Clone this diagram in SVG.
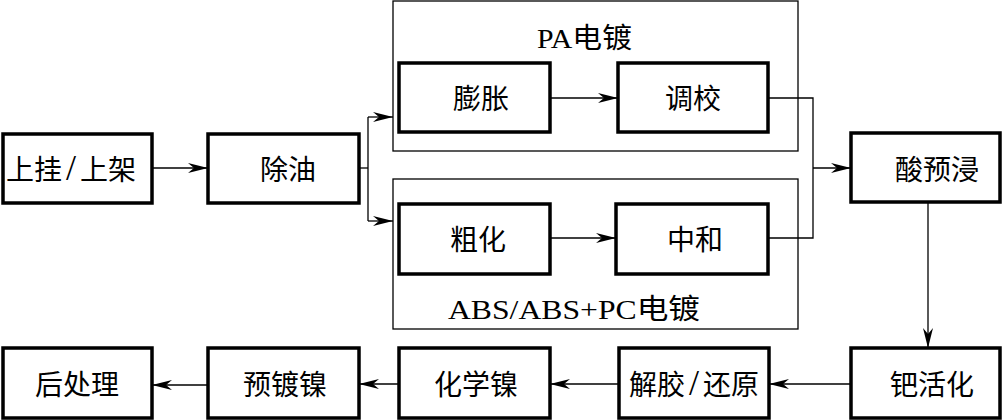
<svg xmlns="http://www.w3.org/2000/svg" width="1003" height="420" viewBox="0 0 1003 420">
<style>
.box{fill:#fff;stroke:#000;stroke-width:3.5}
.grp{fill:none;stroke:#000;stroke-width:1.3}
.t{font-family:"Liberation Serif","Noto Sans CJK SC",serif;font-size:28px;fill:#000;text-anchor:middle}
.s{font-family:"Liberation Serif","Noto Sans CJK SC",serif;font-size:28px;fill:#000}
.sl{font-size:36px}
.g{font-family:"Liberation Serif","Noto Sans CJK SC",serif;font-size:28px;fill:#000}
.c{fill:none;stroke:#000;stroke-width:1.3}
</style>
<defs>
<marker id="a" markerWidth="22" markerHeight="12" refX="20" refY="6" orient="auto" markerUnits="userSpaceOnUse">
<path d="M0,1 L20,6 L0,11 L6,6 Z" fill="#000"/>
</marker>
</defs>
<g id="group-pa">
<rect class="grp" x="393" y="1" width="405" height="150"/>
<text class="g" x="537" y="48" textLength="95" lengthAdjust="spacingAndGlyphs">PA电镀</text>
</g>
<g id="group-abs">
<rect class="grp" x="393" y="179" width="405" height="150"/>
<text class="g" x="448" y="319" textLength="252" lengthAdjust="spacingAndGlyphs">ABS/ABS+PC电镀</text>
</g>
<g id="connectors">
<line class="c" x1="152" y1="168" x2="208" y2="168" marker-end="url(#a)"/>
<polyline class="c" points="359,168 368,168"/>
<polyline class="c" points="368,117 368,221"/>
<line class="c" x1="368" y1="117" x2="393" y2="117" marker-end="url(#a)"/>
<line class="c" x1="368" y1="221" x2="393" y2="221" marker-end="url(#a)"/>
<line class="c" x1="550" y1="98" x2="618" y2="98" marker-end="url(#a)"/>
<line class="c" x1="550" y1="238" x2="616" y2="238" marker-end="url(#a)"/>
<polyline class="c" points="768,98 813,98 813,238 768,238"/>
<line class="c" x1="813" y1="168" x2="851" y2="168" marker-end="url(#a)"/>
<line class="c" x1="928" y1="202" x2="928" y2="348" marker-end="url(#a)"/>
<line class="c" x1="851" y1="384" x2="769" y2="384" marker-end="url(#a)"/>
<line class="c" x1="619" y1="384" x2="550" y2="384" marker-end="url(#a)"/>
<line class="c" x1="399" y1="384" x2="359" y2="384" marker-end="url(#a)"/>
<line class="c" x1="208" y1="385" x2="152" y2="385" marker-end="url(#a)"/>
</g>
<g id="n-shangua"><rect class="box" x="3" y="134" width="149" height="69"/><text class="s" x="6" y="180">上挂<tspan class="sl" dx="4">/</tspan><tspan dx="4">上架</tspan></text></g>
<g id="n-chuyou"><rect class="box" x="208" y="134" width="151" height="69"/><text class="t" x="288" y="180">除油</text></g>
<g id="n-pengzhang"><rect class="box" x="399" y="63" width="151" height="69"/><text class="t" x="481" y="109">膨胀</text></g>
<g id="n-tiaoxiao"><rect class="box" x="618" y="63" width="150" height="69"/><text class="t" x="693" y="109">调校</text></g>
<g id="n-cuhua"><rect class="box" x="399" y="204" width="151" height="70"/><text class="t" x="478" y="250">粗化</text></g>
<g id="n-zhonghe"><rect class="box" x="616" y="204" width="152" height="70"/><text class="t" x="695" y="250">中和</text></g>
<g id="n-suanyujin"><rect class="box" x="851" y="133" width="149" height="69"/><text class="t" x="937" y="180">酸预浸</text></g>
<g id="n-bahuohua"><rect class="box" x="851" y="348" width="149" height="70"/><text class="t" x="932" y="395">钯活化</text></g>
<g id="n-jiejiao"><rect class="box" x="619" y="348" width="150" height="70"/><text class="s" x="629" y="395">解胶<tspan class="sl" dx="4">/</tspan><tspan dx="4">还原</tspan></text></g>
<g id="n-huaxuenie"><rect class="box" x="399" y="348" width="151" height="70"/><text class="t" x="476" y="395">化学镍</text></g>
<g id="n-yudunie"><rect class="box" x="208" y="348" width="151" height="70"/><text class="t" x="285" y="395">预镀镍</text></g>
<g id="n-houchuli"><rect class="box" x="3" y="348" width="149" height="70"/><text class="t" x="77" y="395">后处理</text></g>
</svg>
